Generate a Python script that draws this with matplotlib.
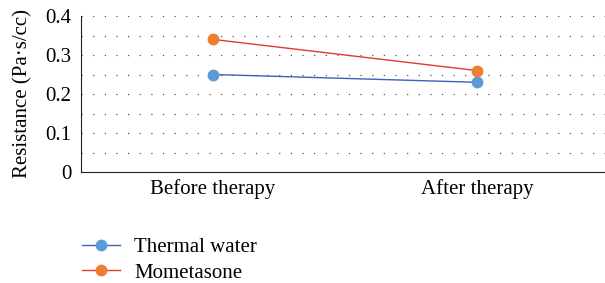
import matplotlib
matplotlib.use("Agg")
import matplotlib.pyplot as plt
from matplotlib.lines import Line2D

categories = ["Before therapy", "After therapy"]
thermal_water = [0.25, 0.23]
mometasone = [0.34, 0.26]
yticks = [0, 0.1, 0.2, 0.3, 0.4]
ytick_labels = ["0", "0.1", "0.2", "0.3", "0.4"]

plt.rcParams['font.family'] = ['Liberation Serif', 'DejaVu Serif']
FS = 15

fig = plt.figure(figsize=(6.05, 2.83), dpi=100)
ax = fig.add_axes([81/605, 1-172/283, 528/605, (172-16)/283])

x = list(range(len(categories)))
ax.plot(x, thermal_water, color="#3b63b5", lw=1.0, marker="o", ms=7.5,
        mfc="#5b9bd5", mec="#5b9bd5", zorder=3)
ax.plot(x, mometasone, color="#e03a2a", lw=1.0, marker="o", ms=7.5,
        mfc="#ed7d31", mec="#ed7d31", zorder=3)

ax.set_xlim(-0.5, 1.5)
ax.set_ylim(0, 0.4)
ax.set_xticks(x)
ax.set_xticklabels(categories, fontsize=FS)
ax.set_yticks(yticks)
ax.set_yticklabels(ytick_labels, fontsize=FS)
ax.set_yticks([0.05, 0.15, 0.25, 0.35], minor=True)
ax.tick_params(axis='x', length=0, pad=5)
ax.tick_params(axis='y', length=0, pad=7)
ax.tick_params(axis='y', which='minor', length=0)
ax.grid(axis='y', which='both', linestyle=(0, (1, 8.3)), color="#555555", lw=0.9)
for s in ["top", "right"]:
    ax.spines[s].set_visible(False)
ax.spines["left"].set_color("#222222")
ax.spines["bottom"].set_color("#222222")
ax.set_ylabel("Resistance (Pa·s/cc)", fontsize=FS, labelpad=9)

handles = [
    Line2D([], [], color="#3b63b5", lw=1.0, marker="o", ms=7.5, mfc="#5b9bd5", mec="#5b9bd5"),
    Line2D([], [], color="#e03a2a", lw=1.0, marker="o", ms=7.5, mfc="#ed7d31", mec="#ed7d31"),
]
fig.legend(handles, ["Thermal water", "Mometasone"], loc="upper left",
           bbox_to_anchor=(74/605, 1-229/283), frameon=False, fontsize=FS,
           handlelength=1.8, labelspacing=0.3, handletextpad=0.7,
           borderaxespad=0)

fig.savefig("out.png", dpi=100)
